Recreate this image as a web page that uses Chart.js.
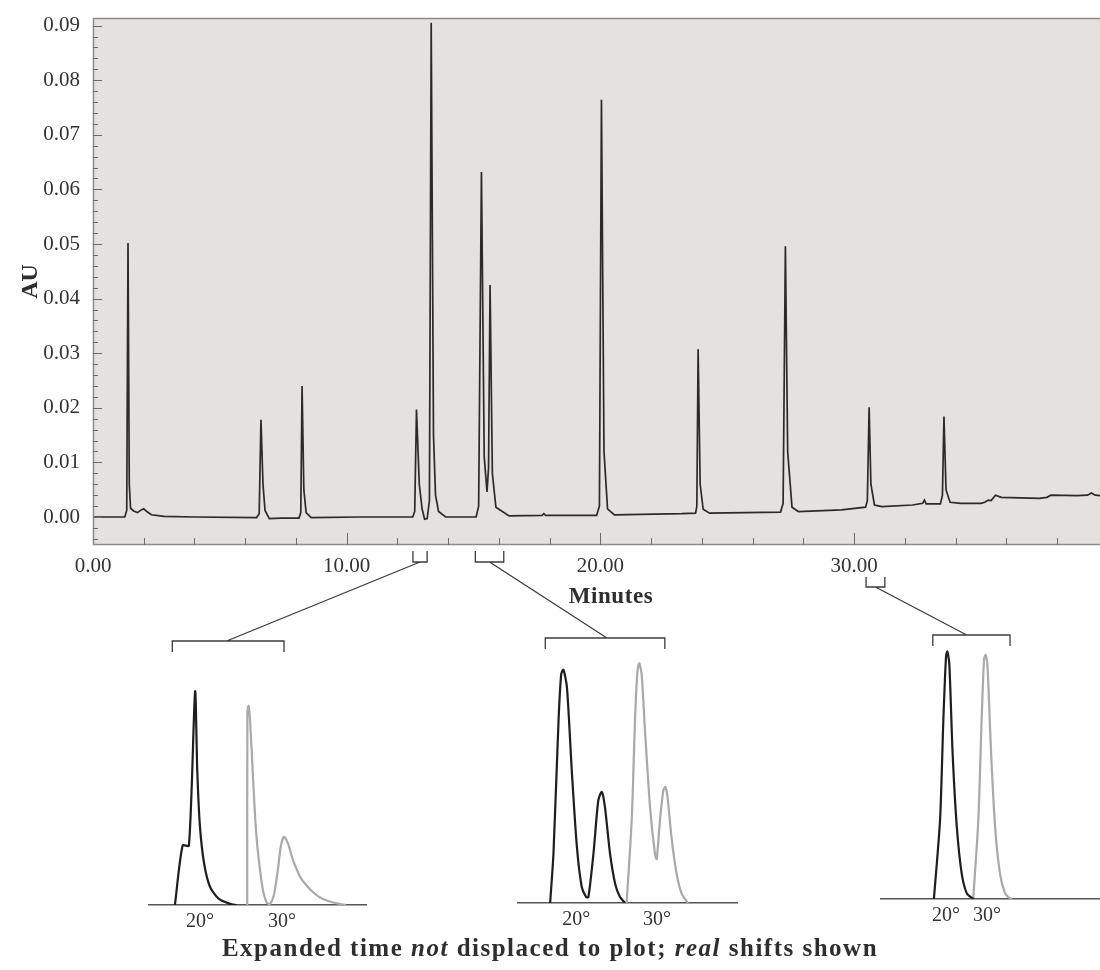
<!DOCTYPE html>
<html>
<head>
<meta charset="utf-8">
<title>Chromatogram</title>
<script src="https://cdn.jsdelivr.net/npm/chart.js@4.4.1/dist/chart.umd.min.js"></script>
<style>
  body { margin: 0; background: #ffffff; }
  #page { position: relative; width: 1100px; height: 970px; overflow: hidden; }
  canvas { position: absolute; }
  .txt { position: absolute; transform: translate(-50%, -50%); white-space: nowrap;
         font-family: 'Liberation Serif', 'Times New Roman', serif; font-weight: bold; color: #2e2e2e; }
  #minutes { left: 611px; top: 596px; font-size: 23px; letter-spacing: 0.6px; }
  #caption { left: 550px; top: 948px; font-size: 25px; letter-spacing: 1.5px; }
</style>
</head>
<body>
<div id="page">
  <canvas id="main" width="1100" height="970" style="left:0;top:0"></canvas>
  <canvas id="inset0"></canvas>
  <canvas id="inset1"></canvas>
  <canvas id="inset2"></canvas>
  <div id="minutes" class="txt">Minutes</div>
  <div id="caption" class="txt">Expanded time <i>not</i> displaced to plot; <i>real</i> shifts shown</div>
</div>
<script>
"use strict";

// Main chromatogram (minutes / AU)
const mainMinutes = [
  0.00, 1.25, 1.33, 1.38, 1.43, 1.48, 1.60, 1.75, 1.90, 2.00, 2.12, 2.30, 2.80, 4.00,
  6.45, 6.55, 6.62, 6.70, 6.78, 6.95, 7.40,
  8.12, 8.19, 8.24, 8.31, 8.40, 8.60, 10.50,
  12.60, 12.68, 12.75, 12.86, 12.97, 13.07, 13.17, 13.26, 13.33, 13.42, 13.50, 13.62, 13.90, 15.10,
  15.20, 15.31, 15.42, 15.53, 15.59, 15.65, 15.74, 15.88, 16.40, 17.70, 17.77, 17.84,
  19.85, 19.96, 20.04, 20.14, 20.28, 20.55, 23.20,
  23.75, 23.80, 23.85, 23.93, 24.05, 24.30, 27.10,
  27.20, 27.29, 27.38, 27.55, 27.80, 29.50, 30.45,
  30.52, 30.59, 30.66, 30.80, 31.10, 32.30, 32.70, 32.77, 32.84, 33.40,
  33.48, 33.54, 33.62, 33.78, 34.20, 35.00, 35.15, 35.28, 35.40, 35.57, 35.80, 37.30, 37.60, 37.75, 38.80, 39.20, 39.35, 39.50, 39.75
];
const mainAU = [
  0.0000, 0.0000, 0.0012, 0.0502, 0.0060, 0.0016, 0.0011, 0.0008, 0.0013, 0.0015, 0.0010, 0.0004, 0.0001, 0.0000,
  -0.0001, 0.0006, 0.0178, 0.0060, 0.0012, -0.0003, -0.0002,
  -0.0002, 0.0008, 0.0240, 0.0050, 0.0008, -0.0001, 0.0000,
  0.0000, 0.0010, 0.0197, 0.0060, 0.0015, -0.0004, -0.0003, 0.0030, 0.0905, 0.0150, 0.0040, 0.0010, 0.0000, 0.0000,
  0.0020, 0.0632, 0.0110, 0.0046, 0.0090, 0.0425, 0.0080, 0.0018, 0.0002, 0.0003, 0.0006, 0.0003,
  0.0003, 0.0020, 0.0764, 0.0120, 0.0015, 0.0004, 0.0006,
  0.0007, 0.0020, 0.0307, 0.0060, 0.0014, 0.0007, 0.0009,
  0.0025, 0.0496, 0.0120, 0.0018, 0.0010, 0.0013, 0.0018,
  0.0030, 0.0201, 0.0060, 0.0022, 0.0019, 0.0022, 0.0025, 0.0031, 0.0024, 0.0024,
  0.0040, 0.0184, 0.0050, 0.0027, 0.0025, 0.0025, 0.0027, 0.0031, 0.0030, 0.0040, 0.0036, 0.0034, 0.0036, 0.0040, 0.0039, 0.0040, 0.0044, 0.0040, 0.0039
];
const xTicks = [0, 10, 20, 30];
const yTicks = [0, 0.01, 0.02, 0.03, 0.04, 0.05, 0.06, 0.07, 0.08, 0.09];
const xMin = 0, xMax = 39.69;
const yMin = -0.00513, yMax = 0.09139;

// expanded windows (minutes) marked under the time axis
const zoomRanges = [[12.61, 13.17], [15.07, 16.19], [30.47, 31.21]];

// Insets: relative time (0-100 across the baseline) / relative absorbance
const inset1Time20 = [12.3, 15.8, 18.7, 21.5, 22.5, 23.7, 25.6, 28.3, 32.1, 37.4, 40.5];
const inset1Abs20  = [0, 0.27, 0.27, 0.97, 0.61, 0.36, 0.19, 0.083, 0.030, 0.005, 0];
const inset1Time30 = [45.3, 45.4, 45.9, 46.6, 48.0, 49.3, 50.7, 52.5, 54.3, 55.7, 57.5, 59.4, 60.7, 62.1, 63.9, 66.2, 69.4, 72.6, 76.3, 79.9, 85.4, 90.4];
const inset1Abs30  = [0, 0.877, 0.905, 0.84, 0.57, 0.34, 0.195, 0.068, 0.009, 0.005, 0.045, 0.168, 0.27, 0.31, 0.28, 0.205, 0.13, 0.086, 0.05, 0.027, 0.009, 0];

const inset2Time20 = [15.0, 16.5, 18.8, 20.0, 21.0, 22.6, 24.8, 27.1, 29.3, 31.3, 32.3, 34.6, 36.8, 38.4, 39.8, 42.1, 44.4, 46.6, 48.9];
const inset2Abs20  = [0, 0.225, 0.83, 1.04, 1.06, 0.98, 0.60, 0.255, 0.073, 0.027, 0.027, 0.225, 0.467, 0.505, 0.436, 0.225, 0.088, 0.027, 0];
const inset2Time30 = [49.6, 51.9, 53.4, 54.4, 55.3, 56.4, 57.9, 60.2, 62.4, 63.2, 64.7, 66.2, 67.1, 68.1, 69.9, 72.2, 74.5, 77.4];
const inset2Abs30  = [0, 0.376, 0.83, 1.04, 1.09, 1.04, 0.785, 0.436, 0.225, 0.20, 0.376, 0.512, 0.527, 0.482, 0.30, 0.134, 0.043, 0];

const inset3Time20 = [24.5, 27.3, 28.8, 30.0, 30.6, 31.5, 33.0, 34.9, 37.1, 39.4, 41.7, 42.7];
const inset3Abs20  = [0, 0.36, 0.815, 1.10, 1.125, 1.07, 0.664, 0.33, 0.118, 0.027, 0.005, 0];
const inset3Time30 = [42.4, 44.7, 46.2, 47.3, 48.0, 48.8, 50.5, 52.3, 54.5, 56.8, 58.8, 60.0];
const inset3Abs30  = [0.005, 0.36, 0.815, 1.09, 1.11, 1.07, 0.664, 0.33, 0.118, 0.027, 0.005, 0];

const insetLabels = ["20°", "30°"];
const insetLabelAt = [[23.7, 61.2], [26.8, 63.3], [30.0, 48.6]];

// layout of the three insets on the page
const insetBoxes = [
  { left: 148, width: 219, base: 905 },
  { left: 517, width: 221, base: 903 },
  { left: 880, width: 220, base: 899 }
];
const insetYMax = 1.2, insetPlotH = 264, insetAxisH = 40;
const insetBracket = [[11.1, 62.1], [12.8, 66.9], [24.0, 59.1]];
const insetBracketY = [641, 638, 635];
const insetJoin = [35.9, 40.7, 39.4];
const mainBracketY = [[551, 562], [551, 562], [577, 587]];

const serif = "'Liberation Serif', 'Times New Roman', serif";
Chart.defaults.font.family = serif;

function pts(xs, ys) {
  return xs.map(function (x, i) { return { x: x, y: ys[i] }; });
}

// Plot background, borders, inner tick marks, zoom brackets
const mainDecor = {
  id: "mainDecor",
  beforeDraw: function (chart) {
    const a = chart.chartArea, ctx = chart.ctx;
    ctx.save();
    ctx.fillStyle = "#e4e2de";
    ctx.fillRect(a.left, a.top, a.right - a.left, a.bottom - a.top);
    ctx.restore();
  },
  afterDraw: function (chart) {
    const a = chart.chartArea, ctx = chart.ctx;
    const xs = chart.scales.x, ys = chart.scales.y;
    ctx.save();
    ctx.strokeStyle = "#8c8c8c";
    ctx.lineWidth = 1.5;
    ctx.beginPath();
    ctx.moveTo(a.right, a.top + 0.5); ctx.lineTo(a.left + 0.5, a.top + 0.5);
    ctx.lineTo(a.left + 0.5, a.bottom - 0.5); ctx.lineTo(a.right, a.bottom - 0.5);
    ctx.stroke();

    ctx.strokeStyle = "#6a6a6a";
    ctx.lineWidth = 1;
    ctx.beginPath();
    for (let k = -2; k <= 45; k++) {
      const v = k * 0.002;
      if (v < yMin || v > yMax) continue;
      const y = Math.round(ys.getPixelForValue(v)) + 0.5;
      ctx.moveTo(a.left, y); ctx.lineTo(a.left + (k % 5 === 0 ? 9 : 5), y);
    }
    for (let t = 2; t < xMax; t += 2) {
      const x = Math.round(xs.getPixelForValue(t)) + 0.5;
      ctx.moveTo(x, a.bottom); ctx.lineTo(x, a.bottom - (t % 10 === 0 ? 12 : 7));
    }
    ctx.stroke();

    ctx.strokeStyle = "#3c3c3c";
    ctx.lineWidth = 1.3;
    zoomRanges.forEach(function (r, i) {
      const x1 = xs.getPixelForValue(r[0]), x2 = xs.getPixelForValue(r[1]);
      const yTop = mainBracketY[i][0], yLine = mainBracketY[i][1];
      const box = insetBoxes[i];
      const ix1 = box.left + insetBracket[i][0] / 100 * box.width;
      const ix2 = box.left + insetBracket[i][1] / 100 * box.width;
      const iy = insetBracketY[i];
      ctx.beginPath();
      ctx.moveTo(x1, yTop); ctx.lineTo(x1, yLine); ctx.lineTo(x2, yLine); ctx.lineTo(x2, yTop);
      ctx.moveTo(ix1, iy + 11); ctx.lineTo(ix1, iy); ctx.lineTo(ix2, iy); ctx.lineTo(ix2, iy + 11);
      ctx.moveTo((x1 + x2) / 2, yLine);
      ctx.lineTo(box.left + insetJoin[i] / 100 * box.width, iy);
      ctx.stroke();
    });
    ctx.restore();
  }
};

new Chart(document.getElementById("main"), {
  type: "line",
  data: {
    datasets: [{
      data: pts(mainMinutes, mainAU),
      borderColor: "#2a2a2a",
      borderWidth: 1.7,
      pointRadius: 0,
      tension: 0
    }]
  },
  options: {
    responsive: false,
    animation: false,
    layout: { padding: { top: 18, right: 0, bottom: 0, left: 0 } },
    plugins: { legend: { display: false }, tooltip: { enabled: false } },
    scales: {
      x: {
        type: "linear", min: xMin, max: xMax,
        afterBuildTicks: function (s) { s.ticks = xTicks.map(function (v) { return { value: v }; }); },
        afterFit: function (s) { s.height = 425; s.paddingLeft = 0; s.paddingRight = 0; },
        grid: { display: false, drawTicks: false },
        border: { display: false },
        ticks: {
          autoSkip: false, maxRotation: 0, padding: 9, color: "#333",
          font: { size: 21 },
          callback: function (v) { return Number(v).toFixed(2); }
        }
      },
      y: {
        type: "linear", min: yMin, max: yMax,
        afterBuildTicks: function (s) { s.ticks = yTicks.map(function (v) { return { value: v }; }); },
        afterFit: function (s) { s.width = 93; s.paddingTop = 0; s.paddingBottom = 0; },
        grid: { display: false, drawTicks: false },
        border: { display: false },
        ticks: {
          padding: 13, color: "#333",
          font: { size: 21 },
          callback: function (v) { return Number(v).toFixed(2); }
        },
        title: {
          display: true, text: "AU", color: "#2e2e2e",
          font: { size: 24, weight: "bold" },
          padding: { top: 16, bottom: 0 }
        }
      }
    }
  },
  plugins: [mainDecor]
});

// Expanded views
const insetSeries = [
  [inset1Time20, inset1Abs20, inset1Time30, inset1Abs30],
  [inset2Time20, inset2Abs20, inset2Time30, inset2Abs30],
  [inset3Time20, inset3Abs20, inset3Time30, inset3Abs30]
];

insetSeries.forEach(function (s, i) {
  const box = insetBoxes[i];
  const cv = document.getElementById("inset" + i);
  cv.width = box.width;
  cv.height = insetPlotH + insetAxisH;
  cv.style.left = box.left + "px";
  cv.style.top = (box.base - insetPlotH) + "px";

  new Chart(cv, {
    type: "line",
    data: {
      datasets: [
        { data: pts(s[0], s[1]), borderColor: "#1e1e1e", borderWidth: 2.2, pointRadius: 0, tension: 0.25 },
        { data: pts(s[2], s[3]), borderColor: "#a9a9a9", borderWidth: 2.2, pointRadius: 0, tension: 0.25 }
      ]
    },
    options: {
      responsive: false,
      animation: false,
      layout: { padding: 0 },
      plugins: { legend: { display: false }, tooltip: { enabled: false } },
      scales: {
        x: {
          type: "linear", min: 0, max: 100,
          afterBuildTicks: function (sc) { sc.ticks = insetLabelAt[i].map(function (v) { return { value: v }; }); },
          afterFit: function (sc) { sc.height = insetAxisH; },
          grid: { display: false, drawTicks: false },
          border: { display: true, color: "#555", width: 1.5 },
          ticks: {
            autoSkip: false, maxRotation: 0, padding: 5, color: "#333",
            font: { size: 20 },
            callback: function (v, idx) { return insetLabels[idx]; }
          }
        },
        y: { type: "linear", min: 0, max: insetYMax, display: false }
      }
    }
  });
});
</script>
</body>
</html>
